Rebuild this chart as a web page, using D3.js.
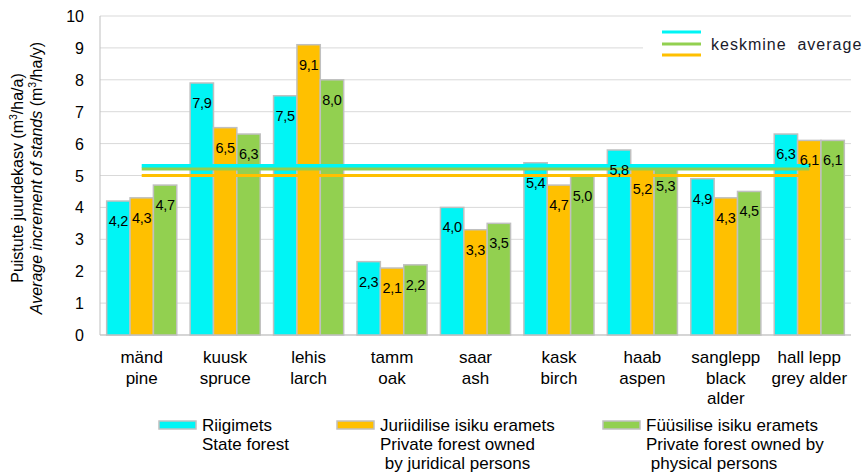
<!DOCTYPE html>
<html>
<head>
<meta charset="utf-8">
<script src="https://d3js.org/d3.v7.min.js"></script>
<style>
  body { margin: 0; background: #fff; }
  svg { display: block; font-family: "Liberation Sans", Arial, sans-serif; }
</style>
</head>
<body>
<svg id="chart" width="864" height="474"></svg>
<script>
// categories (two/three lines each)
const categories = [
  ["mänd", "pine"], ["kuusk", "spruce"], ["lehis", "larch"], ["tamm", "oak"],
  ["saar", "ash"], ["kask", "birch"], ["haab", "aspen"],
  ["sanglepp", "black", "alder"], ["hall lepp", "grey alder"]
];
const stateForest     = [4.2, 7.9, 7.5, 2.3, 4.0, 5.4, 5.8, 4.9, 6.3];
const juridicalForest = [4.3, 6.5, 9.1, 2.1, 3.3, 4.7, 5.2, 4.3, 6.1];
const physicalForest  = [4.7, 6.3, 8.0, 2.2, 3.5, 5.0, 5.3, 4.5, 6.1];
const averages = [5.3, 5.2, 5.0]; // state, physical, juridical
const yTicks = [0, 1, 2, 3, 4, 5, 6, 7, 8, 9, 10];
const seriesNames = [
  ["Riigimets", "State forest"],
  ["Juriidilise isiku eramets", "Private forest owned", " by juridical persons"],
  ["Füüsilise isiku eramets", "Private forest owned by", " physical persons"]
];

const cCyan = "#00f5f5", cOrange = "#ffc000", cGreen = "#92d050";
const series = [
  { vals: stateForest, color: cCyan },
  { vals: juridicalForest, color: cOrange },
  { vals: physicalForest, color: cGreen }
];

const svg = d3.select("#chart");
const mLeft = 100, mRight = 851, mTop = 16, mBottom = 335;

const x = d3.scaleBand().domain(d3.range(categories.length)).range([mLeft, mRight]).paddingInner(0.16).paddingOuter(0.08);
const xs = d3.scaleBand().domain([0, 1, 2]).range([0, x.bandwidth()]);
const y = d3.scaleLinear().domain([0, 10]).range([mBottom, mTop]);

// gridlines
svg.append("g").selectAll("line").data(yTicks).join("line")
  .attr("x1", mLeft).attr("x2", mRight)
  .attr("y1", d => y(d)).attr("y2", d => y(d))
  .attr("stroke", "#d9d9d9").attr("stroke-width", 1);

// axes lines
svg.append("line").attr("x1", mLeft).attr("x2", mLeft).attr("y1", mTop).attr("y2", mBottom).attr("stroke", "#bfbfbf");
svg.append("line").attr("x1", mLeft).attr("x2", mRight).attr("y1", mBottom).attr("y2", mBottom).attr("stroke", "#bfbfbf");

// y tick labels
svg.append("g").selectAll("text").data(yTicks).join("text")
  .attr("x", 84).attr("y", d => y(d) + 6)
  .attr("text-anchor", "end").attr("font-size", 16).attr("fill", "#000")
  .text(d => d);

// y title
const yt = svg.append("text").attr("transform", "translate(23,178) rotate(-90)")
  .attr("text-anchor", "middle").attr("font-size", 16);
yt.append("tspan").text("Puistute juurdekasv (m");
yt.append("tspan").attr("font-size", 10.5).attr("dy", -6).text("3");
yt.append("tspan").attr("dy", 6).text("/ha/a)");
const yt2 = svg.append("text").attr("transform", "translate(42,178) rotate(-90)")
  .attr("text-anchor", "middle").attr("font-size", 16);
yt2.append("tspan").attr("font-style", "italic").text("Average increment of stands");
yt2.append("tspan").text(" (m");
yt2.append("tspan").attr("font-size", 10.5).attr("dy", -6).text("3");
yt2.append("tspan").attr("dy", 6).text("/ha/y)");

// bars
series.forEach((s, si) => {
  svg.append("g").selectAll("rect").data(s.vals).join("rect")
    .attr("x", (d, i) => x(i) + xs(si))
    .attr("y", d => y(d))
    .attr("width", xs.bandwidth())
    .attr("height", d => mBottom - y(d))
    .attr("fill", s.color)
    .attr("stroke", "#c0c0c0").attr("stroke-width", 1.5);
});

// average lines (first to last category centre), over bars
const avgColors = [cCyan, cGreen, cOrange];
const avgWidths = [4, 3, 3];
averages.forEach((v, i) => {
  svg.append("line")
    .attr("x1", x(0) + x.bandwidth() / 2)
    .attr("x2", x(categories.length - 1) + x.bandwidth() / 2)
    .attr("y1", y(v)).attr("y2", y(v))
    .attr("stroke", avgColors[i]).attr("stroke-width", avgWidths[i]);
});

// value labels
series.forEach((s, si) => {
  svg.append("g").selectAll("text").data(s.vals).join("text")
    .attr("x", (d, i) => x(i) + xs(si) + xs.bandwidth() / 2)
    .attr("y", d => y(d) + 25)
    .attr("text-anchor", "middle").attr("font-size", 14.5).attr("fill", "#000")
    .attr("letter-spacing", -0.3)
    .text(d => d.toFixed(1).replace(".", ","));
});

// category labels
categories.forEach((c, i) => {
  const t = svg.append("text").attr("text-anchor", "middle").attr("font-size", 17);
  c.forEach((line, li) => {
    t.append("tspan").attr("x", x(i) + x.bandwidth() / 2).attr("y", 363 + li * 20.5).text(line);
  });
});

// top-right legend
svg.append("rect").attr("x", 643).attr("y", 24).attr("width", 221).attr("height", 40).attr("fill", "#fff");
[[cCyan, 32], [cGreen, 44], [cOrange, 55]].forEach(([c, yy]) => {
  svg.append("line").attr("x1", 662).attr("x2", 701).attr("y1", yy).attr("y2", yy)
    .attr("stroke", c).attr("stroke-width", 3);
});
svg.append("text").attr("x", 711).attr("y", 50).attr("font-size", 16).attr("fill", "#1a1a2a")
  .attr("letter-spacing", 1).style("white-space", "pre").text("keskmine  average");

// bottom legend
const legX = [159, 337, 603];
seriesNames.forEach((names, i) => {
  svg.append("rect").attr("x", legX[i]).attr("y", 421).attr("width", 37).attr("height", 8)
    .attr("fill", series[i].color).attr("stroke", "#c0c0c0").attr("stroke-width", 1.5);
  const t = svg.append("text").attr("font-size", 17).style("white-space", "pre");
  names.forEach((line, li) => {
    t.append("tspan").attr("x", legX[i] + 43).attr("y", 431 + li * 19).text(line);
  });
});
</script>
</body>
</html>
